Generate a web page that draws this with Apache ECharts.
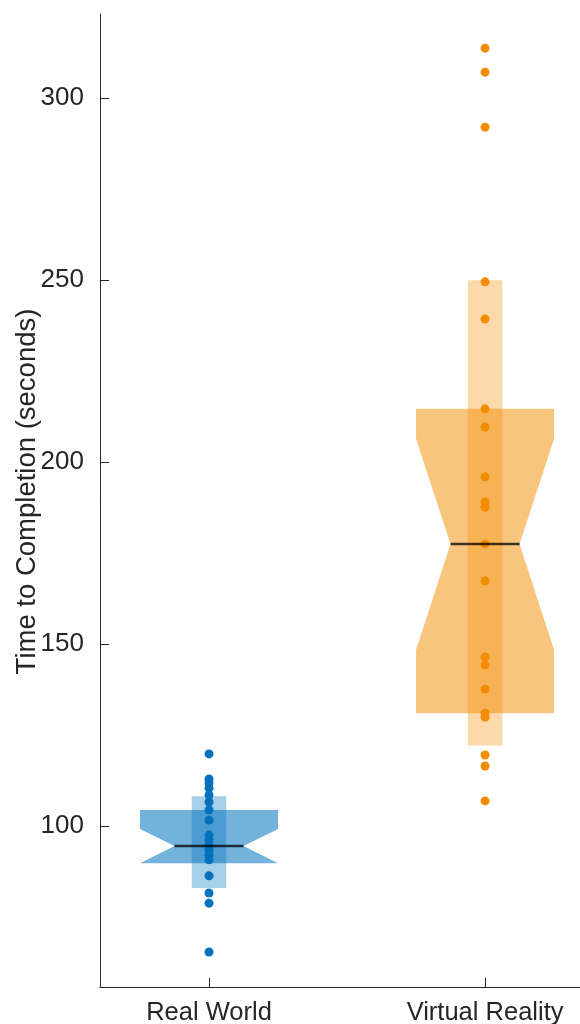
<!DOCTYPE html>
<html>
<head>
<meta charset="utf-8">
<script src="https://cdn.jsdelivr.net/npm/echarts@6/dist/echarts.min.js"></script>
<style>html,body{margin:0;padding:0;background:#fff;}#chart{width:580px;height:1024px;}</style>
</head>
<body>
<div id="chart"></div>
<script>
// ---- data ----
const categories = ['Real World', 'Virtual Reality'];
const realWorldTimes = [119.8, 112.9, 111.8, 110.4, 108.5, 106.6, 104.4, 101.6, 97.5, 96.2, 94.8, 93.4, 92.0, 90.7, 86.3, 81.6, 78.8, 65.4];
const virtualRealityTimes = [313.7, 307.1, 292.0, 249.5, 239.3, 214.6, 209.6, 195.9, 189.0, 187.6, 177.5, 167.3, 146.4, 144.2, 137.6, 131.0, 129.9, 119.5, 116.5, 106.9];
const boxQ1 = [89.8, 131.0];
const boxQ3 = [104.4, 214.6];
const boxMedian = [94.5, 177.5];
const notchLow = [89.8, 148.4];
const notchHigh = [99.2, 206.3];
const innerLow = [83.0, 122.1];
const innerHigh = [108.2, 249.9];
const yTicks = [100, 150, 200, 250, 300];

// ---- styles ----
const baseColors = ['#0072BD', '#F28C00'];
const wideFill = ['rgba(0,114,189,0.55)', 'rgba(242,140,0,0.5)'];
const narrowFill = ['rgba(0,114,189,0.34)', 'rgba(242,140,0,0.33)'];
const textColor = '#262626';
const W = 0.25, N = 0.0625;

const boxData = categories.map((c, i) => [i + 1, boxQ1[i], boxQ3[i], boxMedian[i], notchLow[i], notchHigh[i], innerLow[i], innerHigh[i]]);

function renderBox(params, api) {
  const i = params.dataIndex;
  const x = api.value(0);
  const q1 = api.value(1), q3 = api.value(2), med = api.value(3);
  const nLo = api.value(4), nHi = api.value(5), iLo = api.value(6), iHi = api.value(7);
  const pt = (dx, v) => api.coord([x + dx, v]);
  const poly = [pt(-W, q3), pt(W, q3), pt(W, nHi), pt(W / 2, med), pt(W, nLo), pt(W, q1),
                pt(-W, q1), pt(-W, nLo), pt(-W / 2, med), pt(-W, nHi)];
  const a = pt(-N, iHi), b = pt(N, iLo);
  return {
    type: 'group',
    children: [
      { type: 'polygon', shape: { points: poly }, style: { fill: wideFill[i] } },
      { type: 'rect', shape: { x: a[0], y: a[1], width: b[0] - a[0], height: b[1] - a[1] }, style: { fill: narrowFill[i] } }
    ]
  };
}

function renderMedian(params, api) {
  const x = api.value(0), med = api.value(3);
  const p1 = api.coord([x - W / 2, med]), p2 = api.coord([x + W / 2, med]);
  return { type: 'line', shape: { x1: p1[0], y1: p1[1], x2: p2[0], y2: p2[1] },
           style: { stroke: 'rgba(0,0,0,0.75)', lineWidth: 2.5 } };
}

const chart = echarts.init(document.getElementById('chart'));
chart.setOption({
  animation: false,
  backgroundColor: '#fff',
  grid: { left: 100, right: 0, top: 14, bottom: 37, containLabel: false, outerBoundsMode: 'none' },
  xAxis: {
    type: 'value', min: 0.605, max: 2.344,
    splitLine: { show: false },
    axisLine: { lineStyle: { color: textColor, width: 1 } },
    axisTick: { inside: true, length: 9, customValues: [1, 2], lineStyle: { color: textColor } },
    axisLabel: { customValues: [1, 2], formatter: v => categories[Math.round(v) - 1], color: textColor,
                 fontFamily: 'Liberation Sans', fontSize: 25.5, margin: 13 }
  },
  yAxis: {
    type: 'value', min: 55.77, max: 323.08,
    name: 'Time to Completion (seconds)', nameLocation: 'middle', nameGap: 59, nameMoveOverlap: false,
    nameTextStyle: { color: textColor, fontFamily: 'Liberation Sans', fontSize: 27.5, padding: [0, 0, 0, 18] },
    splitLine: { show: false },
    axisLine: { show: true, lineStyle: { color: textColor, width: 1 } },
    axisTick: { inside: true, length: 9, customValues: yTicks, lineStyle: { color: textColor } },
    axisLabel: { customValues: yTicks, color: textColor, fontFamily: 'Liberation Sans', fontSize: 26, margin: 16 }
  },
  series: [
    { type: 'custom', z: 1, renderItem: renderBox, data: boxData, silent: true },
    { type: 'scatter', z: 2, symbolSize: 9, itemStyle: { color: baseColors[0], opacity: 1 },
      data: realWorldTimes.map(v => [1, v]) },
    { type: 'scatter', z: 2, symbolSize: 9, itemStyle: { color: baseColors[1], opacity: 1 },
      data: virtualRealityTimes.map(v => [2, v]) },
    { type: 'custom', z: 3, renderItem: renderMedian, data: boxData, silent: true }
  ]
});
</script>
</body>
</html>
